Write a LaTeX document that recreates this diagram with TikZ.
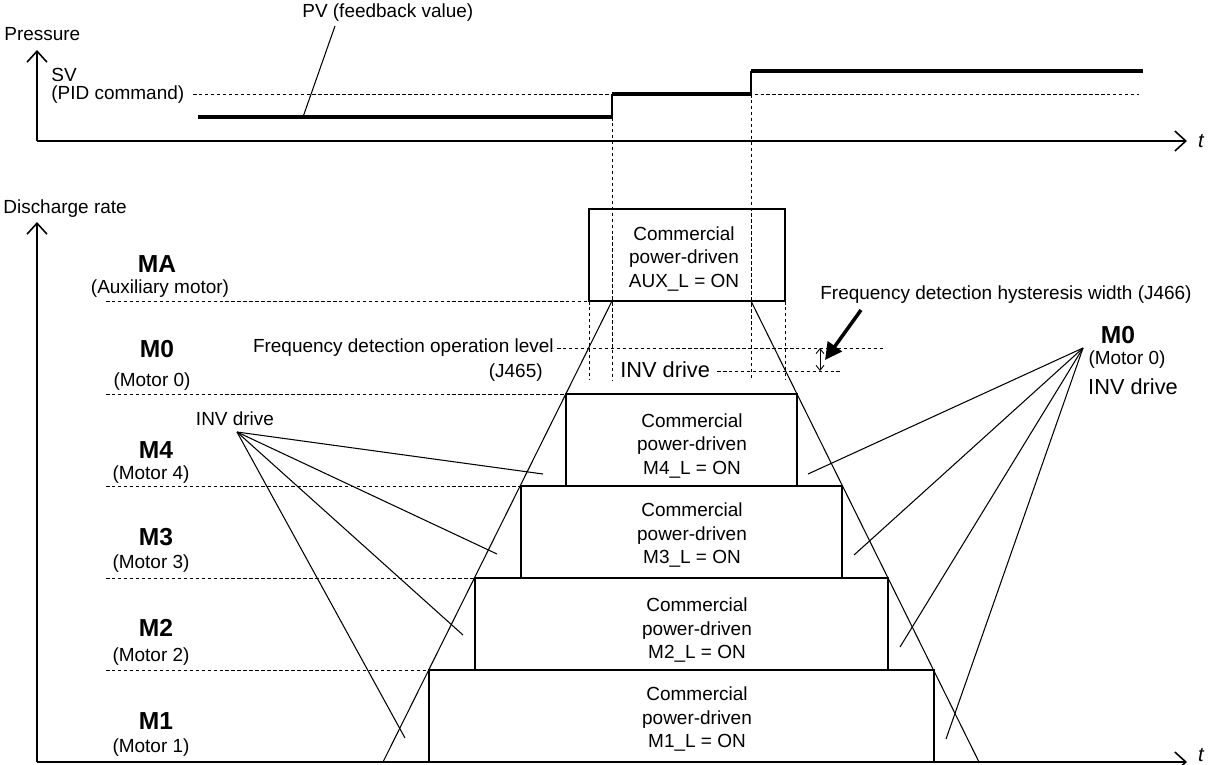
\documentclass[tikz,border=0pt]{standalone}
\usepackage{fontspec}
\setmainfont{Liberation Sans}
\usetikzlibrary{arrows.meta}

\begin{document}
\begin{tikzpicture}[x=0.02cm, y=-0.02cm,
  axis/.style={line width=0.9pt, -{Straight Barb[length=2.2mm, width=4mm]}},
  lvl/.style={dash pattern=on 2pt off 1.4pt, line width=0.5pt},
  pv/.style={line width=2.2pt},
  blk/.style={line width=0.75pt},
  lead/.style={line width=0.6pt},
  txt/.style={font=\fontsize{10.8}{13}\selectfont, inner sep=0pt},
  boxtxt/.style={align=center, inner sep=0pt, font=\fontsize{10.8}{13.1}\selectfont},
  mot/.style={font=\fontsize{14}{16}\selectfont\bfseries, inner sep=0pt},
  big/.style={font=\fontsize{12.4}{15}\selectfont, inner sep=0pt},
]
\useasboundingbox (0,0) rectangle (1212,764);
%% Pressure chart
\draw[axis] (37,141) -- (37,50);
\draw[axis] (37,141) -- (1187,141);
\node[txt, anchor=west] (pres) at (4,34) {Pressure};
\node[txt, font=\fontsize{11.5}{13}\selectfont\itshape] (t1) at (1201,141) {t};
\node[txt, anchor=west] (sv) at (51,75) {SV};
\node[txt, anchor=west] (pid) at (51,95) {(PID command)};
\draw[lvl] (193,94) -- (1139,94);
\draw[pv] (198,117) -- (612,117);
\draw[blk] (612,117) -- (612,94);
\draw[pv] (612,94) -- (751,94);
\draw[blk] (751,94) -- (751,71);
\draw[pv] (751,71) -- (1143,71);
\node[txt, anchor=west] (pv) at (302,13) {PV (feedback value)};
\coordinate (pvend) at (303,117);
\draw[lead] (335,26) -- (pvend);
%% Discharge chart
\draw[axis] (37,762) -- (37,222);
\draw[axis] (37,762) -- (1187,762);
\node[txt, anchor=west] (dis) at (3,209) {Discharge rate};
\node[txt, font=\fontsize{11.5}{13}\selectfont\itshape] (t2) at (1201,755) {t};
%% Level lines
\draw[lvl] (106,301) -- (589,301);
\draw[lvl] (106,394) -- (566,394);
\draw[lvl] (106,486) -- (521,486);
\draw[lvl] (106,578) -- (475,578);
\draw[lvl] (106,670) -- (429,670);
\draw[lvl] (557,348) -- (885,348);
\draw[lvl] (717,371) -- (840,371);
\foreach \x/\y in {612/117, 751/94, 589/301, 785/301}
  \draw[lvl] (\x,\y) -- (\x,380);
%% Motor labels
\node[mot] (ma) at (157,264) {MA};
\node[txt] (mal) at (160,289) {(Auxiliary motor)};
\node[mot] (m0) at (157,349) {M0};
\node[txt] (m0l) at (152,382) {(Motor 0)};
\node[mot] (m4) at (156,450) {M4};
\node[txt] (m4l) at (151,475) {(Motor 4)};
\node[mot] (m3) at (156,537) {M3};
\node[txt] (m3l) at (151,564) {(Motor 3)};
\node[mot] (m2) at (156,628) {M2};
\node[txt] (m2l) at (151,657) {(Motor 2)};
\node[mot] (m1) at (156,721) {M1};
\node[txt] (m1l) at (151,748) {(Motor 1)};
%% Commercial power blocks
\draw[blk] (589,209) rectangle (785,301);
\draw[blk] (566,394) rectangle (797,486);
\draw[blk] (521,486) rectangle (842,578);
\draw[blk] (475,578) rectangle (888,670);
\draw[blk] (429,670) rectangle (934,762);
\node[boxtxt] (cma) at (684,259) {Commercial\\power-driven\\AUX\_L = ON};
\node[boxtxt] (cm4) at (692,446) {Commercial\\power-driven\\M4\_L = ON};
\node[boxtxt] (cm3) at (692,535) {Commercial\\power-driven\\M3\_L = ON};
\node[boxtxt] (cm2) at (697,630) {Commercial\\power-driven\\M2\_L = ON};
\node[boxtxt] (cm1) at (697,719) {Commercial\\power-driven\\M1\_L = ON};
%% INV drive slopes
\draw[lead] (612,301) -- (383,762);
\draw[lead] (751,301) -- (979,762);
%% Frequency detection
\node[txt, anchor=east] (fop) at (554,348) {Frequency detection operation level};
\node[txt, anchor=east] (j465) at (543,373) {(J465)};
\node[big, anchor=west] (inv0) at (620,370) {INV drive};
\coordinate (hysT) at (820,348);
\coordinate (hysB) at (820,371);
\draw[line width=0.5pt, {Straight Barb[length=1mm, width=1.6mm]}-{Straight Barb[length=1mm, width=1.6mm]}] (hysT) -- (hysB);
\node[txt, anchor=west] (hys) at (820,295) {Frequency detection hysteresis width (J466)};
\coordinate (hysA) at (825,360);
\draw[line width=2pt, -{Triangle[length=3.4mm, width=3.4mm]}] (861,310) -- (hysA);
%% INV drive leaders
\node[txt] (invl) at (235,419) {INV drive};
\coordinate (invL) at (237,432);
\foreach \n/\x/\y in {4/543/474, 3/497/554, 2/463/635, 1/405/738} {
  \coordinate (invL\n) at (\x,\y);
  \draw[lead] (invL) -- (invL\n);
}
\node[mot] (m0r) at (1118,335) {M0};
\node[txt] (m0rl) at (1127,360) {(Motor 0)};
\node[big] (invr) at (1133,387) {INV drive};
\coordinate (invR) at (1083,348);
\foreach \n/\x/\y in {4/808/474, 3/854/555, 2/900/647, 1/946/739} {
  \coordinate (invR\n) at (\x,\y);
  \draw[lead] (invR) -- (invR\n);
}
\end{tikzpicture}
\end{document}
